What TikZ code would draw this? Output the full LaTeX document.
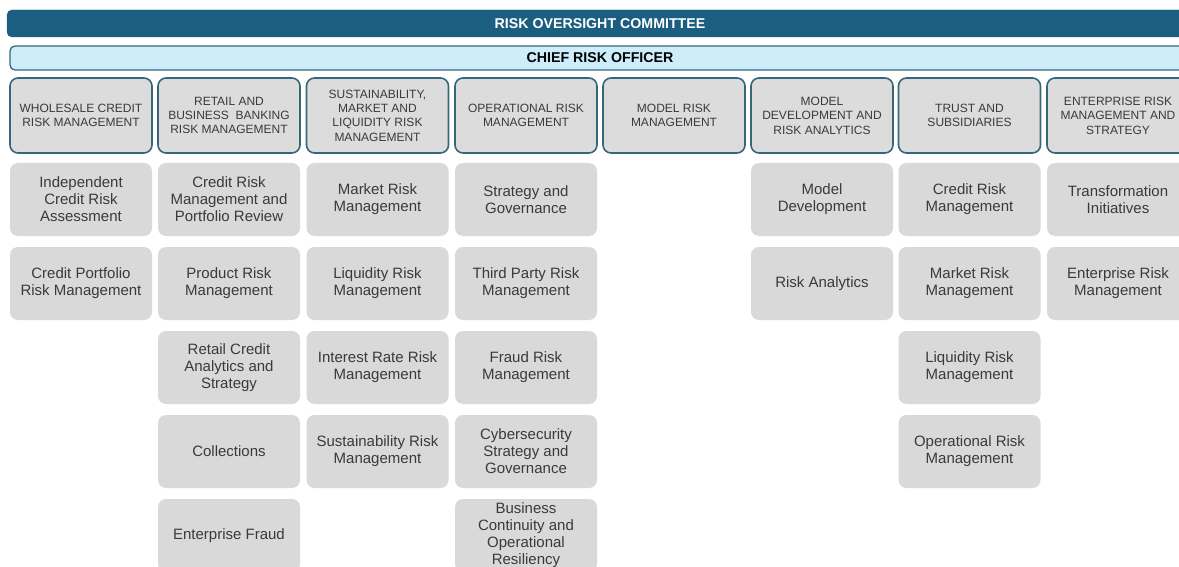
\documentclass[tikz,border=0pt]{standalone}
\usepackage{fontspec}
\setmainfont{Liberation Sans}

\definecolor{rocblue}{HTML}{1C5E80}
\definecolor{croblue}{HTML}{CDEDFB}
\definecolor{edgeteal}{HTML}{36667C}
\definecolor{headgray}{HTML}{DCDCDC}
\definecolor{unitgray}{HTML}{D9D9D9}
\definecolor{inkgray}{HTML}{3A3A3A}

\tikzset{
    committee/.style={draw=rocblue, fill=rocblue, rounded corners=5pt,
        minimum width=1186pt, minimum height=27pt, inner sep=0pt,
        text=white, font=\fontsize{14.2}{16}\selectfont\bfseries},
    officer/.style={draw=edgeteal, line width=1.3pt, fill=croblue,
        rounded corners=5pt, minimum width=1180pt, minimum height=24pt,
        inner sep=0pt, text=black, font=\fontsize{14.2}{16}\selectfont\bfseries},
    unithead/.style={draw=edgeteal, line width=1.6pt, fill=headgray,
        rounded corners=8pt, minimum width=142pt, minimum height=75pt,
        inner sep=0pt, align=center, text=inkgray,
        font=\fontsize{12}{14.4}\selectfont},
    unitbox/.style={fill=unitgray, rounded corners=8pt,
        minimum width=142pt, minimum height=73pt, inner sep=0pt,
        align=center, text=inkgray, font=\fontsize{15}{17}\selectfont},
}

\begin{document}
\begin{tikzpicture}[x=1pt, y=-1pt]
    \useasboundingbox (0,0) rectangle (1179,567);
    \clip (0,0) rectangle (1179,567);

    %% Committee and officer
    \node[committee] (roc) at (600,23.5) {RISK OVERSIGHT COMMITTEE};
    \node[officer]   (cro) at (600,58)   {CHIEF RISK OFFICER};

    %% Functions
    \node[unithead] (wcrm) at (81,115.5)
        {WHOLESALE CREDIT\\RISK MANAGEMENT};
    \node[unithead] (rbrm) at (229,115.5)
        {RETAIL AND\\BUSINESS\ \ BANKING\\RISK MANAGEMENT};
    \node[unithead] (smlr) at (377.5,115.5)
        {SUSTAINABILITY,\\MARKET AND\\LIQUIDITY RISK\\MANAGEMENT};
    \node[unithead] (oprm) at (526,115.5)
        {OPERATIONAL RISK\\MANAGEMENT};
    \node[unithead] (mdrm) at (674,115.5)
        {MODEL RISK\\MANAGEMENT};
    \node[unithead] (mdra) at (822,115.5)
        {MODEL\\DEVELOPMENT AND\\RISK ANALYTICS};
    \node[unithead] (trst) at (969.5,115.5)
        {TRUST AND\\SUBSIDIARIES};
    \node[unithead] (erms) at (1118,115.5)
        {ENTERPRISE RISK\\MANAGEMENT AND\\STRATEGY};

    %% Wholesale credit
    \node[unitbox] (wcrm1) at (81,199.5) {Independent\\Credit Risk\\Assessment};
    \node[unitbox] (wcrm2) at (81,283.5) {Credit Portfolio\\Risk Management};

    %% Retail and business banking
    \node[unitbox] (rbrm1) at (229,199.5) {Credit Risk\\Management and\\Portfolio Review};
    \node[unitbox] (rbrm2) at (229,283.5) {Product Risk\\Management};
    \node[unitbox] (rbrm3) at (229,367.5) {Retail Credit\\Analytics and\\Strategy};
    \node[unitbox] (rbrm4) at (229,451.5) {Collections};
    \node[unitbox] (rbrm5) at (229,535.5) {Enterprise Fraud};

    %% Sustainability, market and liquidity
    \node[unitbox] (smlr1) at (377.5,199.5) {Market Risk\\Management};
    \node[unitbox] (smlr2) at (377.5,283.5) {Liquidity Risk\\Management};
    \node[unitbox] (smlr3) at (377.5,367.5) {Interest Rate Risk\\Management};
    \node[unitbox] (smlr4) at (377.5,451.5) {Sustainability Risk\\Management};

    %% Operational
    \node[unitbox] (oprm1) at (526,199.5) {Strategy and\\Governance};
    \node[unitbox] (oprm2) at (526,283.5) {Third Party Risk\\Management};
    \node[unitbox] (oprm3) at (526,367.5) {Fraud Risk\\Management};
    \node[unitbox] (oprm4) at (526,451.5) {Cybersecurity\\Strategy and\\Governance};
    \node[unitbox] (oprm5) at (526,535.5) {Business\\Continuity and\\Operational\\Resiliency};

    %% Model development
    \node[unitbox] (mdra1) at (822,199.5) {Model\\Development};
    \node[unitbox] (mdra2) at (822,283.5) {Risk Analytics};

    %% Trust
    \node[unitbox] (trst1) at (969.5,199.5) {Credit Risk\\Management};
    \node[unitbox] (trst2) at (969.5,283.5) {Market Risk\\Management};
    \node[unitbox] (trst3) at (969.5,367.5) {Liquidity Risk\\Management};
    \node[unitbox] (trst4) at (969.5,451.5) {Operational Risk\\Management};

    %% Enterprise
    \node[unitbox] (erms1) at (1118,199.5) {Transformation\\Initiatives};
    \node[unitbox] (erms2) at (1118,283.5) {Enterprise Risk\\Management};
\end{tikzpicture}
\end{document}
